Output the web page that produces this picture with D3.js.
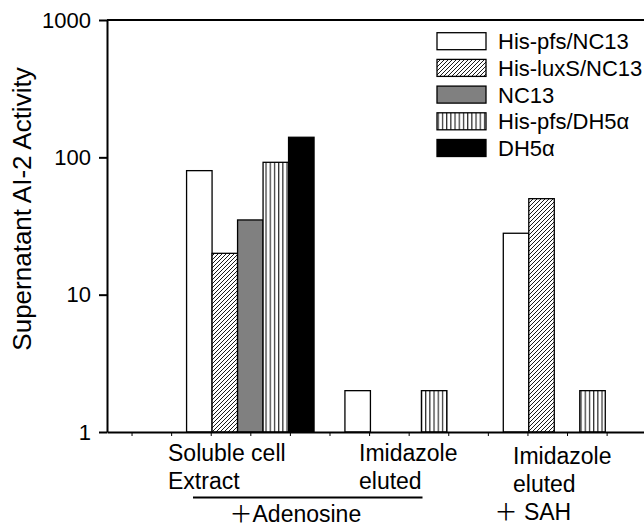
<!DOCTYPE html>
<html>
<head>
<meta charset="utf-8">
<script src="https://cdn.jsdelivr.net/npm/d3@7"></script>
<style>
body { margin: 0; background: #fff; }
text { font-family: "Liberation Sans", Arial, "Noto Sans CJK SC", sans-serif; fill: #000; }
</style>
</head>
<body>
<div id="graph"></div>
<script>
// data
var groupPos = [3, 7, 11];
var seriesNames = ["His-pfs/NC13", "His-luxS/NC13", "NC13", "His-pfs/DH5\u03b1", "DH5\u03b1"];
var pfsNC13 = [80, 2, 28];
var luxSNC13 = [20, null, 50];
var nc13 = [35, null, null];
var pfsDH5a = [92, 2, 2];
var dh5a = [140, null, null];
var yTicks = [1, 10, 100, 1000];
var xTicks = d3.range(0, 14);

var seriesValues = [pfsNC13, luxSNC13, nc13, pfsDH5a, dh5a];
var fills = ["#fff", "url(#hatch)", "#808080", "url(#vstripe)", "#000"];

var svgWidth = 644, svgHeight = 529,
svg = d3.select('#graph').append('svg').attr('width', svgWidth).attr('height', svgHeight);

var defs = svg.append('defs');
var hatch = defs.append('pattern').attr('id', 'hatch').attr('patternUnits', 'userSpaceOnUse')
  .attr('width', 4).attr('height', 4);
hatch.append('rect').attr('width', 4).attr('height', 4).attr('fill', '#fff');
hatch.append('path').attr('d', 'M-1,1 l2,-2 M0,4 l4,-4 M3,5 l2,-2')
  .attr('stroke', '#000').attr('stroke-width', 0.9);

var vstripe = defs.append('pattern').attr('id', 'vstripe').attr('patternUnits', 'userSpaceOnUse')
  .attr('width', 4.2).attr('height', 10);
vstripe.append('rect').attr('width', 4.2).attr('height', 10).attr('fill', '#fff');
vstripe.append('line').attr('x1', 1.5).attr('x2', 1.5).attr('y1', 0).attr('y2', 10)
  .attr('stroke', '#000').attr('stroke-width', 1);

var x = d3.scaleLinear().domain([-0.62, 13.5]).range([107, 666]);
var y = d3.scaleLog().domain([1, 1000]).range([432, 20]);
var bw = 0.644;

// bars
seriesValues.forEach(function(vals, i) {
  var data = vals.map(function(v, g) { return {v: v, g: g}; }).filter(function(d) { return d.v != null; });
  svg.append('g').selectAll('rect').data(data).enter().append('rect')
    .attr('x', function(d) { return x(groupPos[d.g] + (i - 2) * bw - bw / 2); })
    .attr('width', x(bw) - x(0))
    .attr('y', function(d) { return y(d.v); })
    .attr('height', function(d) { return y(1) - y(d.v); })
    .attr('fill', fills[i])
    .attr('stroke', '#000')
    .attr('stroke-width', 1.3);
});

// top frame line
svg.append('line').attr('x1', 107).attr('x2', 666).attr('y1', y(1000)).attr('y2', y(1000))
  .attr('stroke', '#000').attr('stroke-width', 2);

var ya = svg.append('g').attr('transform', 'translate(107,0)')
  .call(d3.axisLeft(y).tickValues(yTicks).tickFormat(d3.format('d')).tickSize(8).tickSizeOuter(0).tickPadding(8));
ya.selectAll('text').style('font-size', '22px').attr('fill', '#000');
ya.selectAll('line, path').attr('stroke-width', 2);

var xa = svg.append('g').attr('transform', 'translate(0,' + y(1) + ')')
  .call(d3.axisBottom(x).tickValues(xTicks).tickFormat('').tickSize(4).tickSizeOuter(0));
xa.selectAll('path').attr('stroke-width', 2);
xa.selectAll('line').attr('stroke-width', 1);

svg.append('text')
  .attr('transform', 'translate(31,209) rotate(-90)')
  .style('text-anchor', 'middle')
  .style('font-size', '26px')
  .text('Supernatant AI-2 Activity');

// legend
var leg = svg.append('g');
seriesNames.forEach(function(name, i) {
  var top = 32.7 + 26.7 * i;
  leg.append('rect').attr('x', 437).attr('y', top).attr('width', 49).attr('height', 17)
    .attr('fill', fills[i]).attr('stroke', '#000').attr('stroke-width', 1.3);
  leg.append('text').attr('x', 498).attr('y', top + 16.5).style('font-size', '22px').text(name);
});

// group labels
var labels = [
  {t: 'Soluble cell', x: 168, y: 461},
  {t: 'Extract', x: 168, y: 488.5},
  {t: 'Imidazole', x: 359, y: 461},
  {t: 'eluted', x: 359, y: 488.5},
  {t: 'Imidazole', x: 513, y: 464},
  {t: 'eluted', x: 513, y: 492},
  {t: '\uff0bAdenosine', x: 229.5, y: 521.5},
  {t: '\uff0b SAH', x: 494.5, y: 520}
];
svg.append('g').selectAll('text').data(labels).enter().append('text')
  .attr('x', function(d) { return d.x; })
  .attr('y', function(d) { return d.y; })
  .style('font-size', '23px')
  .text(function(d) { return d.t; });

svg.append('line').attr('x1', 193).attr('x2', 422.5).attr('y1', 497.5).attr('y2', 497.5)
  .attr('stroke', '#000').attr('stroke-width', 2);
</script>
</body>
</html>
